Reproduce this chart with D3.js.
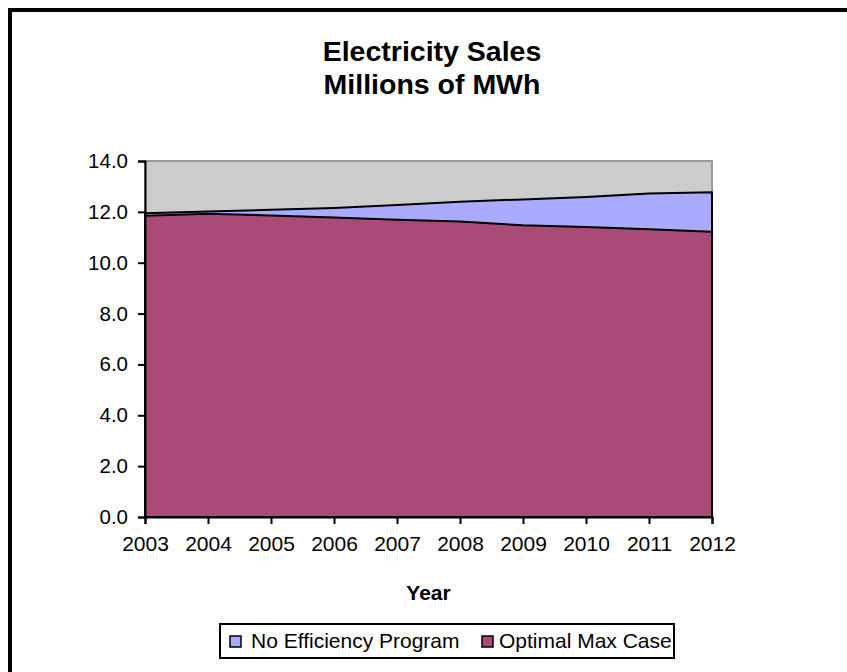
<!DOCTYPE html>
<html>
<head>
<meta charset="utf-8">
<script src="https://cdn.jsdelivr.net/npm/d3@7"></script>
<style>
  html, body { margin: 0; padding: 0; background: #fff; }
  svg { display: block; }
  text { font-family: "Liberation Sans", Arial, sans-serif; fill: #000; }
</style>
</head>
<body>
<svg id="chart" width="847" height="672"></svg>
<script>
// ---- data ----
const years = ["2003","2004","2005","2006","2007","2008","2009","2010","2011","2012"];
const noEfficiency = [11.95, 12.01, 12.08, 12.15, 12.27, 12.40, 12.49, 12.58, 12.72, 12.77];
const optimalMax   = [11.85, 11.93, 11.86, 11.78, 11.69, 11.62, 11.47, 11.40, 11.32, 11.22];
const yTicks = [0, 2, 4, 6, 8, 10, 12, 14];
const seriesNames = ["No Efficiency Program", "Optimal Max Case"];
const titleLines = ["Electricity Sales", "Millions of MWh"];
const xTitle = "Year";

// ---- layout ----
const W = 847, H = 672;
const plot = { left: 145, right: 712, top: 161, bottom: 517 };
const colors = { bg: "#CCCCCC", ne: "#AAAAFF", opt: "#AA4A76" };

const svg = d3.select("#chart");

// outer frame (extends past the right/bottom edges)
svg.append("rect")
  .attr("x", 10).attr("y", 10)
  .attr("width", W + 20).attr("height", H + 20)
  .attr("fill", "#fff").attr("stroke", "#000").attr("stroke-width", 4);

// title
svg.append("g").selectAll("text").data(titleLines).join("text")
  .attr("x", 432).attr("y", (d, i) => 61 + i * 33)
  .attr("text-anchor", "middle")
  .attr("font-size", 28.5).attr("font-weight", "bold")
  .text(d => d);

const x = d3.scalePoint().domain(years).range([plot.left, plot.right]);
const y = d3.scaleLinear().domain([0, 14]).range([plot.bottom, plot.top]);

// plot background
svg.append("rect")
  .attr("x", plot.left).attr("y", plot.top)
  .attr("width", plot.right - plot.left).attr("height", plot.bottom - plot.top)
  .attr("fill", colors.bg).attr("stroke", "#999").attr("stroke-width", 2);

const area = d3.area()
  .x((d, i) => x(years[i]))
  .y0(y(0))
  .y1(d => y(d));

svg.append("path").datum(noEfficiency)
  .attr("d", area)
  .attr("fill", colors.ne).attr("stroke", "#000").attr("stroke-width", 2)
  .attr("stroke-linejoin", "round");

svg.append("path").datum(optimalMax)
  .attr("d", area)
  .attr("fill", colors.opt).attr("stroke", "#000").attr("stroke-width", 2)
  .attr("stroke-linejoin", "round");

// y axis
const yAxis = svg.append("g")
  .attr("transform", `translate(${plot.left},0)`)
  .call(d3.axisLeft(y).tickValues(yTicks).tickFormat(d3.format(".1f")).tickSize(7).tickPadding(10));
yAxis.select(".domain").attr("stroke", "#000").attr("stroke-width", 2);
yAxis.selectAll(".tick line").attr("stroke", "#000").attr("stroke-width", 2);
yAxis.selectAll(".tick text").attr("font-size", 20.5).attr("font-family", "Liberation Sans, Arial, sans-serif").attr("fill", "#000");

// x axis
const xAxis = svg.append("g")
  .attr("transform", `translate(0,${plot.bottom})`)
  .call(d3.axisBottom(x).tickSize(7).tickPadding(12));
xAxis.select(".domain").attr("stroke", "#000").attr("stroke-width", 2);
xAxis.selectAll(".tick line").attr("stroke", "#000").attr("stroke-width", 2);
xAxis.selectAll(".tick text").attr("font-size", 21).attr("font-family", "Liberation Sans, Arial, sans-serif").attr("fill", "#000");

// x title
svg.append("text")
  .attr("x", (plot.left + plot.right) / 2).attr("y", 600)
  .attr("text-anchor", "middle")
  .attr("font-size", 21).attr("font-weight", "bold")
  .text(xTitle);

// legend
const legend = svg.append("g");
legend.append("rect")
  .attr("x", 220).attr("y", 624).attr("width", 454).attr("height", 34)
  .attr("fill", "#fff").attr("stroke", "#000").attr("stroke-width", 2);
const legX = [230, 482];
const legTextX = [251, 499];
const legColors = [colors.ne, colors.opt];
seriesNames.forEach((name, i) => {
  legend.append("rect")
    .attr("x", legX[i]).attr("y", 636).attr("width", 11).attr("height", 11)
    .attr("fill", legColors[i]).attr("stroke", "#000").attr("stroke-width", 1.5);
  legend.append("text")
    .attr("x", legTextX[i]).attr("y", 648)
    .attr("font-size", 21)
    .text(name);
});
</script>
</body>
</html>
